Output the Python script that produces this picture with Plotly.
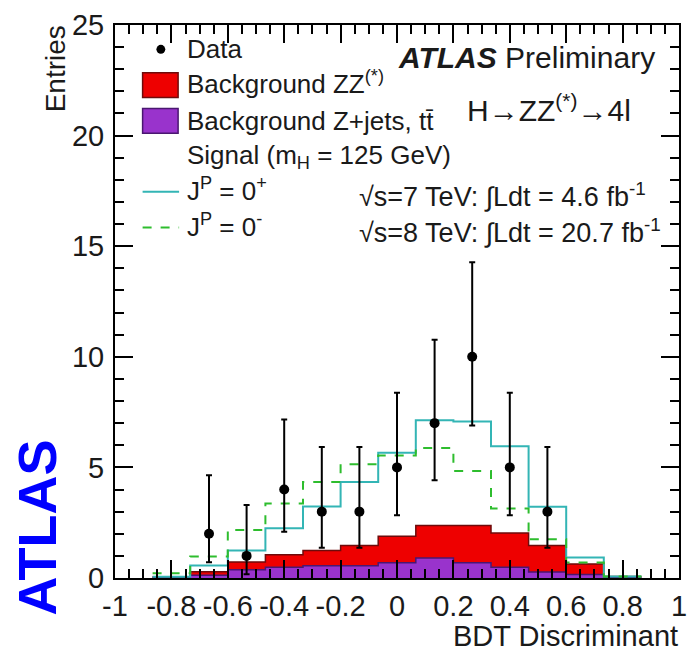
import numpy as np
import plotly.graph_objects as go

# ---- binning: 15 equal bins on [-1, 1] of the BDT output ----
bin_edges = np.linspace(-1.0, 1.0, 16)
bin_centers = 0.5 * (bin_edges[:-1] + bin_edges[1:])

# ---- expected yields per bin (15 bins) ----
bkg_zjets_tt = [0.0, 0.02, 0.12, 0.37, 0.49, 0.55, 0.55, 0.69, 0.90, 0.69, 0.49, 0.27, 0.16, 0.02, 0.0]
bkg_zz       = [0.0, 0.04, 0.16, 0.35, 0.56, 0.69, 0.92, 1.20, 1.47, 1.68, 1.55, 1.20, 0.47, 0.05, 0.0]
# signal + background totals for the two spin-parity hypotheses
total_0plus  = [0.0, 0.06, 0.57, 1.24, 2.25, 3.23, 4.34, 5.66, 7.13, 7.08, 5.96, 3.22, 0.93, 0.07, 0.0]
total_0minus = [0.0, 0.21, 0.97, 2.17, 3.37, 4.34, 5.14, 5.54, 5.88, 4.84, 3.14, 1.75, 0.70, 0.07, 0.0]

# ---- observed events per bin, with asymmetric Poisson errors ----
data_counts = [0, 0, 2, 1, 4, 3, 3, 5, 7, 10, 5, 3, 0, 0, 0]
data_err_up = [0, 0, 2.64, 2.30, 3.16, 2.92, 2.92, 3.38, 3.77, 4.27, 3.38, 2.92, 0, 0, 0]
data_err_dn = [0, 0, 1.29, 0.83, 1.91, 1.63, 1.63, 2.16, 2.58, 3.11, 2.16, 1.63, 0, 0, 0]

x_tick_vals = [-1, -0.8, -0.6, -0.4, -0.2, 0, 0.2, 0.4, 0.6, 0.8, 1]
x_tick_text = ["-1", "-0.8", "-0.6", "-0.4", "-0.2", "0", "0.2", "0.4", "0.6", "0.8", "1"]

# colours
RED, RED_EDGE = "#ee0000", "#6e0b0b"
PURPLE, PURPLE_EDGE = "#9933cc", "#4a1770"
CYAN = "#33b5b5"
GREEN = "#2ebd2e"
INK = "#1a1a1a"
FONT = "Liberation Sans, Arial, sans-serif"

# only the filled bins are drawn as step outlines
lo, hi = 1, 14
step_x = list(bin_edges[lo:hi + 1])


def step_y(vals):
    v = list(vals[lo:hi])
    return v + [v[-1]]


bkg_total = [a + b for a, b in zip(bkg_zjets_tt, bkg_zz)]

fig = go.Figure()

# stacked background: ZZ on top of Z+jets/ttbar
fig.add_trace(go.Scatter(
    x=step_x, y=step_y(bkg_total), mode="lines", line_shape="hv",
    line=dict(color=RED_EDGE, width=1.5), fill="tozeroy", fillcolor=RED,
    hoverinfo="skip", showlegend=False))
fig.add_trace(go.Scatter(
    x=step_x, y=step_y(bkg_zjets_tt), mode="lines", line_shape="hv",
    line=dict(color=PURPLE_EDGE, width=1.5), fill="tozeroy", fillcolor=PURPLE,
    hoverinfo="skip", showlegend=False))

# signal hypotheses (stacked on background)
fig.add_trace(go.Scatter(
    x=step_x, y=step_y(total_0plus), mode="lines", line_shape="hv",
    line=dict(color=CYAN, width=2), hoverinfo="skip", showlegend=False))
fig.add_trace(go.Scatter(
    x=step_x, y=step_y(total_0minus), mode="lines", line_shape="hv",
    line=dict(color=GREEN, width=2, dash="dash"), hoverinfo="skip", showlegend=False))

# observed data
sel = [i for i, n in enumerate(data_counts) if n > 0]
fig.add_trace(go.Scatter(
    x=[bin_centers[i] for i in sel], y=[data_counts[i] for i in sel], mode="markers",
    marker=dict(color="black", size=10),
    error_y=dict(type="data", symmetric=False,
                 array=[data_err_up[i] for i in sel],
                 arrayminus=[data_err_dn[i] for i in sel],
                 color="black", thickness=2, width=3),
    showlegend=False))

# ---- geometry helpers for the hand-made legend (pixel -> paper) ----
L, R, T, B = 115, 687, 21, 578


def px(x):
    return (x - L) / (R - L)


def py(y):
    return (B - y) / (B - T)


shapes = []
annotations = []

# legend glyphs
shapes.append(dict(type="circle", xref="paper", yref="paper",
                   x0=px(157), x1=px(166), y0=py(41), y1=py(50),
                   fillcolor="black", line=dict(color="black", width=0)))
shapes.append(dict(type="rect", xref="paper", yref="paper",
                   x0=px(143), x1=px(179), y0=py(94), y1=py(69),
                   fillcolor=RED, line=dict(color=RED_EDGE, width=1.5)))
shapes.append(dict(type="rect", xref="paper", yref="paper",
                   x0=px(143), x1=px(179), y0=py(130), y1=py(105),
                   fillcolor=PURPLE, line=dict(color=PURPLE_EDGE, width=1.5)))
shapes.append(dict(type="line", xref="paper", yref="paper",
                   x0=px(143), x1=px(180), y0=py(189), y1=py(189),
                   line=dict(color=CYAN, width=2)))
shapes.append(dict(type="line", xref="paper", yref="paper",
                   x0=px(143), x1=px(180), y0=py(225), y1=py(225),
                   line=dict(color=GREEN, width=2, dash="dash")))


def label(text, x, y, size=26, xanchor="left", yanchor="middle", **kw):
    annotations.append(dict(text=text, x=px(x), y=py(y), xref="paper", yref="paper",
                            xanchor=xanchor, yanchor=yanchor, showarrow=False,
                            font=dict(family=FONT, size=size, color=kw.pop("color", INK)),
                            **kw))


label("Data", 186, 45)
label("Background ZZ<sup>(*)</sup>", 186, 79)
label("Background Z+jets, tt\u0304", 186, 118)
label("Signal (m<sub>H</sub> = 125 GeV)", 186, 153)
label("J<sup>P</sup> = 0<sup>+</sup>", 186, 187)
label("J<sup>P</sup> = 0<sup>-</sup>", 186, 223)

label("<b><i>ATLAS</i></b> Preliminary", 665, 54, size=30, xanchor="right")
label("H\u2192ZZ<sup>(*)</sup>\u21924l", 640, 105, size=30, xanchor="right")
label("\u221As=7 TeV: \u222BLdt = 4.6 fb<sup>-1</sup>", 360, 192, size=27)
label("\u221As=8 TeV: \u222BLdt = 20.7 fb<sup>-1</sup>", 360, 228, size=27)

# axis titles
label("Entries", 55, 19, size=28, xanchor="center", yanchor="top", textangle=-90)
label("BDT Discriminant", 688, 636, size=29, xanchor="right")

# big vertical ATLAS tag
label("<b>ATLAS</b>", 36, 527, size=54, xanchor="center", color="#0000ff", textangle=-90)

fig.update_layout(
    width=696, height=651, autosize=False,
    margin=dict(l=L, r=696 - R, t=T, b=651 - B, pad=0),
    plot_bgcolor="white", paper_bgcolor="white",
    shapes=shapes, annotations=annotations,
    font=dict(family=FONT, size=28, color=INK),
    xaxis=dict(range=[-1, 1], tickmode="array", tickvals=x_tick_vals, ticktext=x_tick_text,
               ticks="inside", ticklen=18, tickwidth=1.5, tickcolor="black",
               minor=dict(dtick=0.05, tick0=0, ticks="inside", ticklen=9, tickwidth=1.5,
                          tickcolor="black", showgrid=False),
               showline=True, linecolor="black", linewidth=2, mirror="ticks",
               showgrid=False, zeroline=False, ticklabelstandoff=1,
               tickfont=dict(size=29, family=FONT, color=INK)),
    yaxis=dict(range=[0, 25], tick0=0, dtick=5,
               ticks="inside", ticklen=18, tickwidth=1.5, tickcolor="black",
               minor=dict(dtick=1, tick0=0, ticks="inside", ticklen=9, tickwidth=1.5,
                          tickcolor="black", showgrid=False),
               showline=True, linecolor="black", linewidth=2, mirror="ticks",
               showgrid=False, zeroline=False, ticklabelstandoff=3,
               tickfont=dict(size=29, family=FONT, color=INK)),
)

fig.write_html("out.html")
